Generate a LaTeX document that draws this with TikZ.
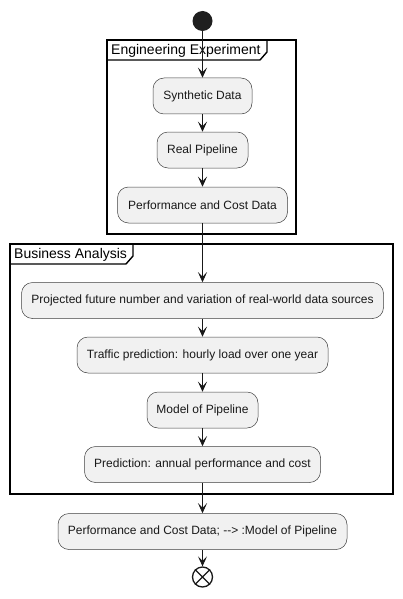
\documentclass[tikz,border=0pt]{standalone}
\usepackage{fontspec}
\setmainfont{Liberation Sans}
\usetikzlibrary{arrows.meta}
\begin{document}
\begin{tikzpicture}[x=1pt,y=-1pt,
  act/.style={draw=black!75,line width=0.5pt,fill=black!5.5,rounded corners=11pt,
    minimum height=36pt,inner sep=0pt,font=\fontsize{12}{14}\selectfont,text=black!90},
  frm/.style={draw=black,line width=1.4pt},
  flow/.style={draw=black!90,line width=0.8pt,-{Stealth[length=10pt,width=9pt,inset=4.5pt]}},
  lbl/.style={font=\fontsize{14}{16}\selectfont,anchor=west,inner sep=0pt}]
\useasboundingbox (0,0) rectangle (403,599);
% frames
\draw[frm] (107,40) rectangle (296,234);
\draw[frm] (107,40) -- (267,40) -- (267,52) -- (260,60) -- (107,60);
\node[lbl] (lblA) at (111,50.5) {Engineering Experiment};
\draw[frm] (10,244) rectangle (393,494);
\draw[frm] (10,244) -- (133,244) -- (133,256) -- (126,264) -- (10,264);
\node[lbl] (lblB) at (14,254.5) {Business Analysis};
% start
\node[circle,fill=black!88,minimum size=20pt,inner sep=0pt] (start) at (202.5,21) {};
% activities
\node[act,minimum width=99pt] (syn) at (202.5,96) {Synthetic Data};
\node[act,minimum width=91pt] (real) at (202.5,150) {Real Pipeline};
\node[act,minimum width=170pt] (perf) at (202.5,205) {Performance and Cost Data};
\node[act,minimum width=362pt] (proj) at (202.5,300.5) {Projected future number and variation of real-world data sources};
\node[act,minimum width=251pt] (traf) at (202.5,355) {Traffic prediction: hourly load over one year};
\node[act,minimum width=111pt] (model) at (202.5,410) {Model of Pipeline};
\node[act,minimum width=236pt] (pred) at (202.5,464.5) {Prediction: annual performance and cost};
\node[act,minimum width=289pt] (fin) at (202.5,531.5) {Performance and Cost Data; {-}{-}> :Model of Pipeline};
% end
\node[circle,draw=black!90,line width=1.3pt,fill=white,minimum size=20pt,inner sep=0pt] (stop) at (202.5,577) {};
\draw[black!90,line width=1.3pt] (stop.north west) -- (stop.south east) (stop.north east) -- (stop.south west);
% flows
\draw[flow] (start) -- (syn);
\draw[flow] (syn) -- (real);
\draw[flow] (real) -- (perf);
\draw[flow] (perf) -- (proj);
\draw[flow] (proj) -- (traf);
\draw[flow] (traf) -- (model);
\draw[flow] (model) -- (pred);
\draw[flow] (pred) -- (fin);
\draw[flow] (fin) -- (stop);
\end{tikzpicture}
\end{document}
